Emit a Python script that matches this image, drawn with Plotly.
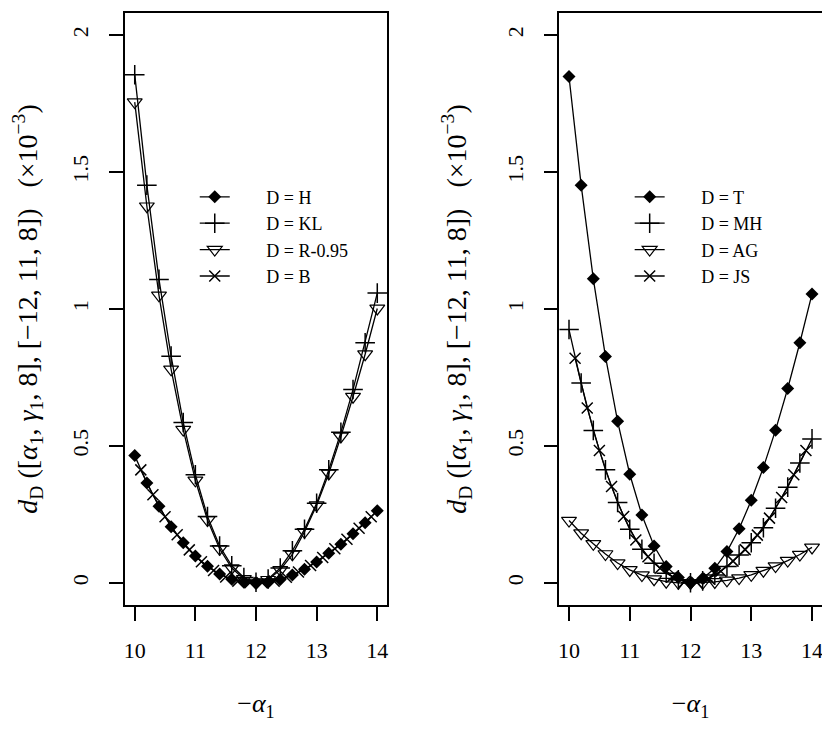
import plotly.graph_objects as go

# x positions (-alpha_1)
x_even = [10.0, 10.2, 10.4, 10.6, 10.8, 11.0, 11.2, 11.4, 11.6, 11.8, 12.0,
          12.2, 12.4, 12.6, 12.8, 13.0, 13.2, 13.4, 13.6, 13.8, 14.0]
x_odd = [10.1, 10.3, 10.5, 10.7, 10.9, 11.1, 11.3, 11.5, 11.7, 11.9,
         12.1, 12.3, 12.5, 12.7, 12.9, 13.1, 13.3, 13.5, 13.7, 13.9]

# left panel (x 1e-3)
d_H = [0.465, 0.365, 0.280, 0.205, 0.147, 0.099, 0.061, 0.033, 0.014, 0.003, 0.0,
       0.003, 0.013, 0.029, 0.050, 0.077, 0.109, 0.142, 0.180, 0.220, 0.264]
d_KL = [1.855, 1.452, 1.108, 0.828, 0.586, 0.395, 0.243, 0.135, 0.063, 0.020, 0.003,
        0.015, 0.055, 0.118, 0.196, 0.291, 0.413, 0.550, 0.706, 0.877, 1.058]
d_R = [1.755, 1.375, 1.050, 0.780, 0.560, 0.375, 0.230, 0.125, 0.055, 0.015, 0.002,
       0.012, 0.048, 0.105, 0.187, 0.284, 0.400, 0.535, 0.680, 0.835, 1.002]
d_B = [0.413, 0.322, 0.242, 0.176, 0.121, 0.078, 0.046, 0.022, 0.007, 0.001,
       0.001, 0.007, 0.021, 0.040, 0.064, 0.093, 0.125, 0.160, 0.200, 0.242]

# right panel (x 1e-3)
d_T = [1.848, 1.452, 1.110, 0.827, 0.590, 0.397, 0.248, 0.135, 0.060, 0.020, 0.0,
       0.017, 0.054, 0.115, 0.198, 0.302, 0.422, 0.558, 0.710, 0.877, 1.055]
d_MH = [0.925, 0.730, 0.557, 0.413, 0.294, 0.196, 0.123, 0.072, 0.036, 0.012, 0.001,
        0.008, 0.029, 0.060, 0.102, 0.147, 0.202, 0.273, 0.350, 0.438, 0.526]
d_AG = [0.228, 0.182, 0.143, 0.106, 0.073, 0.048, 0.029, 0.014, 0.005, 0.001, 0.0,
        0.001, 0.004, 0.010, 0.018, 0.030, 0.045, 0.062, 0.082, 0.104, 0.130]
d_JS = [0.820, 0.639, 0.484, 0.352, 0.243, 0.157, 0.096, 0.054, 0.023, 0.005,
        0.003, 0.017, 0.043, 0.080, 0.122, 0.175, 0.237, 0.312, 0.395, 0.484]

y_ticks = [0, 0.5, 1, 1.5, 2]
y_ticktext = ["0", "0.5", "1", "1.5", "2"]
x_ticks = [10, 11, 12, 13, 14]

FONT = "Liberation Serif"
GAP = "&nbsp;" * 7  # R puts the legend text well clear of the symbol
sym = {
    "diamond": dict(symbol="diamond", size=10, color="black"),
    "plus": dict(symbol="cross-thin-open", size=14, color="black", line=dict(width=1.5, color="black")),
    "tri": dict(symbol="triangle-down-open", size=13, color="black", line=dict(width=1.2, color="black")),
    "x": dict(symbol="x-thin-open", size=11, color="black", line=dict(width=1.5, color="black")),
}

fig = go.Figure()

def add(x, y, name, mk, xa, ya, leg):
    fig.add_trace(go.Scatter(x=x, y=y, name=GAP + name, mode="lines+markers",
                             line=dict(color="black", width=1.3), marker=sym[mk],
                             xaxis=xa, yaxis=ya, legend=leg))

add(x_even, d_H, "D = H", "diamond", "x", "y", "legend")
add(x_even, d_KL, "D = KL", "plus", "x", "y", "legend")
add(x_even, d_R, "D = R-0.95", "tri", "x", "y", "legend")
add(x_odd, d_B, "D = B", "x", "x", "y", "legend")

add(x_even, d_T, "D = T", "diamond", "x2", "y2", "legend2")
add(x_even, d_MH, "D = MH", "plus", "x2", "y2", "legend2")
add(x_even, d_AG, "D = AG", "tri", "x2", "y2", "legend2")
add(x_odd, d_JS, "D = JS", "x", "x2", "y2", "legend2")

ytitle = ("<i>d</i><sub>D</sub> ([<i>α</i><sub>1</sub>, <i>γ</i><sub>1</sub>, 8], "
          "[−12, 11, 8])   (×10<sup>−3</sup>)")
xtitle = "−<i>α</i><sub>1</sub>"

xax = dict(range=[9.84, 14.16], tickvals=x_ticks, ticks="outside", ticklen=14,
           tickwidth=1.5, tickcolor="black", showline=True, linecolor="black",
           linewidth=1.5, mirror=True, showgrid=False, zeroline=False, automargin=False,
           ticklabelstandoff=11,
           tickfont=dict(size=22, family=FONT, color="black"),
           title=dict(text=xtitle, font=dict(size=26, family=FONT, color="black"), standoff=32))
yax = dict(range=[-0.08, 2.08], tickvals=y_ticks, ticktext=y_ticktext, ticks="outside",
           ticklen=14, tickwidth=1.5, tickcolor="black", showline=True, linecolor="black",
           linewidth=1.5, mirror=True, showgrid=False, zeroline=False, tickangle=-90,
           automargin=False, ticklabelstandoff=12,
           tickfont=dict(size=22, family=FONT, color="black"),
           title=dict(text=ytitle, font=dict(size=28, family=FONT, color="black"), standoff=28))

legend_style = dict(font=dict(size=18, family=FONT, color="black"), bgcolor="rgba(0,0,0,0)",
                    xanchor="left", yanchor="top", borderwidth=0)

# the page adds an 8px body margin, domains are set in figure space
fig.update_layout(
    width=830, height=729,
    margin=dict(l=0, r=0, t=0, b=0),
    paper_bgcolor="white", plot_bgcolor="white",
    font=dict(family=FONT, color="black"),
    showlegend=True,
    xaxis=dict(xax, domain=[0.141, 0.4566], anchor="y"),
    yaxis=dict(yax, domain=[0.1811, 0.9931], anchor="x"),
    xaxis2=dict(xax, domain=[0.6642, 0.9804], anchor="y2"),
    yaxis2=dict(yax, domain=[0.1811, 0.9931], anchor="x2"),
    legend=dict(legend_style, x=0.225, y=0.766),
    legend2=dict(legend_style, x=0.749, y=0.766),
)

fig.write_html("out.html")
